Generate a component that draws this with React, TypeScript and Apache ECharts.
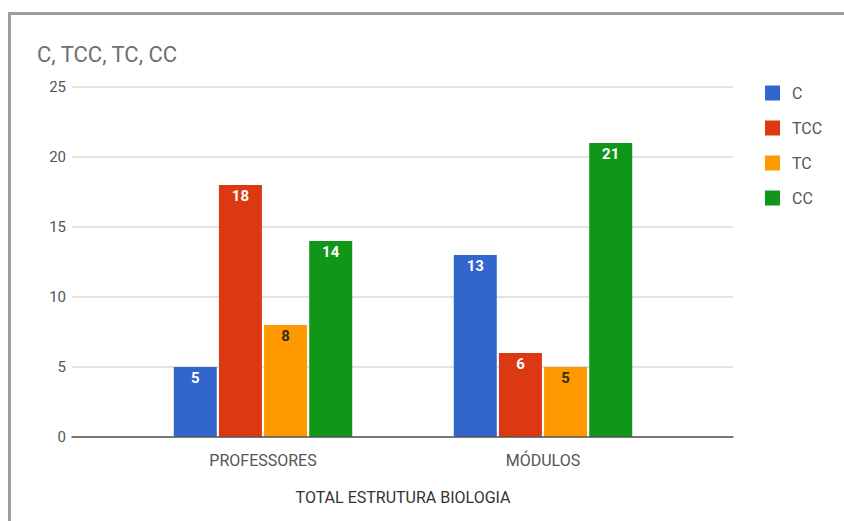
import React, { useEffect, useRef } from "react";
import * as echarts from "echarts";

const categories = ["PROFESSORES", "MÓDULOS"];
const seriesNames = ["C", "TCC", "TC", "CC"];
const valuesC = [5, 13];
const valuesTCC = [18, 6];
const valuesTC = [8, 5];
const valuesCC = [14, 21];
const colors = ["#3366cc", "#dc3912", "#ff9900", "#109618"];
const labelColors = ["#ffffff", "#ffffff", "#3a2a10", "#ffffff"];
const titleText = "C, TCC, TC, CC";
const axisTitle = "TOTAL ESTRUTURA BIOLOGIA";

export default function App() {
  const ref = useRef<HTMLDivElement>(null);
  useEffect(() => {
    if (!ref.current) return;
    const chart = echarts.init(ref.current, null, { renderer: "svg" });
    const allValues = [valuesC, valuesTCC, valuesTC, valuesCC];
    const font = "Roboto, Arial, sans-serif";
    chart.setOption({
      animation: false,
      backgroundColor: "#ffffff",
      textStyle: { fontFamily: font },
      title: {
        text: titleText,
        left: 32,
        top: 38,
        textStyle: { fontSize: 22, fontWeight: "normal", color: "#6f6f6f", fontFamily: font },
      },
      legend: {
        orient: "vertical",
        left: 760,
        top: 80,
        itemWidth: 15,
        itemHeight: 15,
        itemGap: 19,
        icon: "rect",
        data: seriesNames,
        textStyle: { fontSize: 16, color: "#555", fontFamily: font, padding: [0, 0, 0, 7] },
      },
      grid: [
        { left: 72, right: 111, top: 87, height: 350 },
        { left: 123, right: 161, top: 87, height: 350 },
      ],
      xAxis: [
        {
          gridIndex: 0,
          type: "value",
          min: 0,
          max: 1,
          z: 10,
          axisLine: { show: true, lineStyle: { color: "#555", width: 1.5 } },
          axisTick: { show: false },
          axisLabel: { show: false },
          splitLine: { show: false },
        },
        {
          gridIndex: 1,
          type: "category",
          data: categories,
          axisLine: { show: false },
          axisTick: { show: false },
          axisLabel: { color: "#555", fontSize: 16, margin: 15, fontFamily: font },
        },
      ],
      yAxis: [
        {
          gridIndex: 0,
          type: "value",
          min: 0,
          max: 25,
          interval: 5,
          axisLine: { show: false },
          axisTick: { show: false },
          axisLabel: { color: "#555", fontSize: 15, margin: 6, fontFamily: font },
          splitLine: { lineStyle: { color: "#d9d9d9", width: 1.5 } },
        },
        {
          gridIndex: 1,
          type: "value",
          min: 0,
          max: 25,
          interval: 5,
          show: false,
          splitLine: { show: false },
        },
      ],
      graphic: [
        { type: "rect", shape: { x: 8, y: 12, width: 836, height: 3 }, style: { fill: "#9e9e9e" } },
        { type: "rect", shape: { x: 8, y: 12, width: 3, height: 509 }, style: { fill: "#9e9e9e" } },
        {
          type: "text",
          x: 403,
          y: 497,
          style: {
            text: axisTitle,
            fill: "#333",
            fontSize: 16,
            fontFamily: font,
            align: "center",
            verticalAlign: "middle",
          },
        },
      ],
      series: seriesNames.map((name, i) => ({
        name,
        type: "bar",
        xAxisIndex: 1,
        yAxisIndex: 1,
        data: allValues[i],
        barWidth: 43,
        barGap: "5%",
        itemStyle: { color: colors[i] },
        label: {
          show: true,
          position: "insideTop",
          distance: 3,
          color: labelColors[i],
          fontWeight: "bold",
          fontSize: 15,
          fontFamily: font,
        },
      })),
    });
    return () => chart.dispose();
  }, []);
  return (
    <div
      ref={ref}
      style={{ position: "fixed", left: 0, top: 0, width: 844, height: 521 }}
    />
  );
}
